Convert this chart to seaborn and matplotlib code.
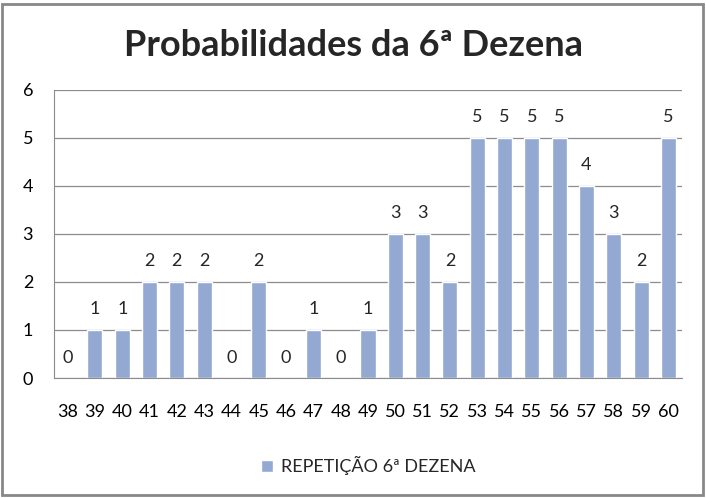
import matplotlib
matplotlib.use("Agg")
import matplotlib.pyplot as plt
import seaborn as sns
import pandas as pd
from matplotlib.patches import Rectangle

categories = ["38", "39", "40", "41", "42", "43", "44", "45", "46", "47", "48", "49",
              "50", "51", "52", "53", "54", "55", "56", "57", "58", "59", "60"]
values = [0, 1, 1, 2, 2, 2, 0, 2, 0, 1, 0, 1, 3, 3, 2, 5, 5, 5, 5, 4, 3, 2, 5]
series_name = "REPETIÇÃO 6ª DEZENA"
title = "Probabilidades da 6ª Dezena"

df = pd.DataFrame({"cat": categories, "val": values, "series": series_name})

sns.set_style("white")
plt.rcParams["font.family"] = ["Lato", "DejaVu Sans"]

fig = plt.figure(figsize=(7.06, 4.98), dpi=100)
ax = fig.add_axes([54 / 706, 1 - 378 / 498, (682 - 54) / 706, (378 - 90) / 498])

bar_color = "#93A9D1"
sns.barplot(data=df, x="cat", y="val", hue="series", palette=[bar_color],
            width=0.55, ax=ax, saturation=1, legend=True)

ax.set_ylim(0, 6)
ax.set_yticks(range(0, 7))
ax.set_xlim(-0.5, len(categories) - 0.5)
ax.yaxis.grid(True, color="#8c8c8c", linewidth=0.9)
ax.set_axisbelow(True)
for s in ["top", "right"]:
    ax.spines[s].set_visible(False)
ax.spines["left"].set_color("#8c8c8c")
ax.spines["bottom"].set_color("#8c8c8c")
ax.set_xlabel("")
ax.set_ylabel("")
ax.tick_params(axis="both", length=0, labelsize=13, colors="black")
ax.tick_params(axis="x", pad=19)
ax.tick_params(axis="y", pad=15)

for c in ax.containers:
    ax.bar_label(c, labels=[str(v) for v in values], padding=9, fontsize=13)

leg = ax.legend(loc="center", bbox_to_anchor=(0.5, -0.305), frameon=False,
                fontsize=13, handlelength=0.7, handleheight=0.7, handletextpad=0.4)

fig.text(0.5, 1 - 45 / 498, title, ha="center", va="center",
         fontsize=26, fontweight="bold")

fig.patches.append(Rectangle((2 / 706, 3 / 498), 701 / 706, 491 / 498,
                             transform=fig.transFigure, fill=False,
                             edgecolor="#888888", linewidth=2))

fig.savefig("out.png", dpi=100)
